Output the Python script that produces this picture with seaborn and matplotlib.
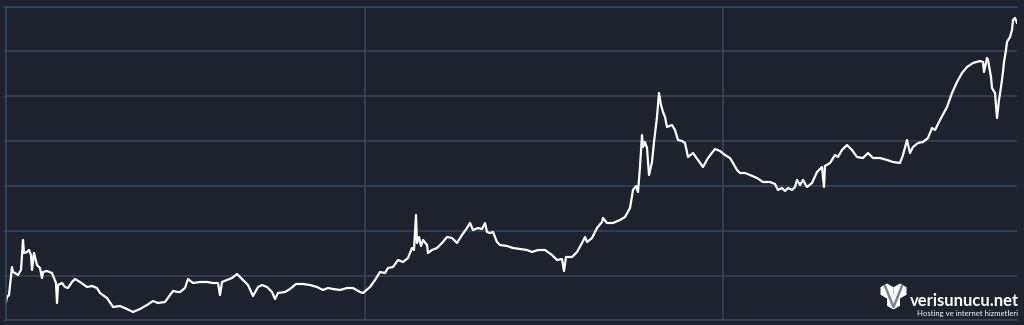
import numpy as np
import pandas as pd
import matplotlib
matplotlib.use("Agg")
import matplotlib.pyplot as plt
from matplotlib.patches import RegularPolygon
from matplotlib.transforms import IdentityTransform
import seaborn as sns

# ---- data (x = day index, y = value) ----
days_a = [6, 7, 9, 12, 13, 15, 18, 21, 23, 24, 27, 29, 31, 32, 34, 37, 40, 42, 43, 47, 52, 54, 56, 57,
          58, 62, 65, 68, 72, 75, 80, 87, 92, 97, 100, 107, 113, 120, 127, 133, 140, 147, 153, 158, 165, 170, 173, 178]
vals_a = [18, 23, 25, 53, 48, 47, 45, 50, 80, 67, 68, 70, 65, 50, 67, 55, 52, 42, 48, 49, 47, 42, 37, 17,
          35, 37, 33, 32, 38, 41, 38, 33, 34, 32, 27, 22, 13, 14, 11, 8, 11, 15, 19, 17, 18, 25, 29, 28]

days_b = [180, 185, 188, 193, 200, 207, 213, 218, 220, 222, 227, 232, 237, 242, 248, 253, 258, 262, 267, 272,
          275, 278, 285, 290, 296, 303, 310, 317, 323, 328, 333, 340, 347, 353, 360, 363, 370]
vals_b = [28, 32, 41, 37, 38, 38, 37, 37, 25, 38, 40, 42, 46, 41, 35, 24, 33, 35, 33, 28,
          21, 27, 28, 31, 36, 36, 35, 33, 30, 32, 31, 30, 32, 32, 28, 27, 33]

days_c = [375, 380, 385, 388, 393, 398, 403, 408, 412, 414, 416, 417, 419, 421, 423, 427, 428, 432, 437, 442,
          447, 452, 457, 462, 467, 470, 473, 478, 482, 485, 487, 490, 493, 497, 500, 507, 513, 520, 527, 532,
          538, 545, 552, 557, 562, 564, 566, 572, 577]
vals_c = [40, 48, 47, 52, 53, 60, 58, 62, 72, 70, 105, 77, 83, 74, 80, 75, 67, 70, 72, 77,
          83, 82, 77, 85, 92, 97, 90, 92, 91, 97, 88, 87, 88, 78, 75, 74, 72, 71, 70, 68,
          70, 70, 65, 60, 61, 49, 63, 63, 68]

days_d = [582, 585, 587, 592, 597, 602, 603, 607, 613, 620, 625, 630, 633, 636, 638, 640, 642, 643, 645, 647,
          649, 652, 654, 657, 659, 661, 663, 665, 667, 672, 675, 678, 682, 685, 688, 693, 698, 703, 708, 715, 720]
vals_d = [77, 83, 78, 82, 92, 98, 102, 97, 97, 100, 103, 112, 130, 134, 128, 153, 185, 173, 178, 172,
          145, 158, 178, 203, 227, 215, 208, 203, 193, 195, 190, 180, 179, 177, 163, 167, 160, 153, 162, 171, 169]

days_e = [725, 730, 733, 737, 740, 745, 750, 757, 763, 770, 775, 778, 782, 785, 788, 792, 795, 797, 800, 803,
          807, 812, 817, 822, 824, 825, 830, 835, 838, 842, 847, 852, 857, 863, 868, 873, 880, 887, 893, 900]
vals_e = [165, 162, 157, 150, 147, 147, 145, 142, 138, 138, 136, 130, 132, 129, 132, 130, 133, 140, 135, 140,
          133, 137, 148, 153, 133, 154, 157, 165, 163, 170, 175, 170, 163, 162, 167, 162, 162, 160, 158, 157]

days_f = [903, 907, 910, 913, 918, 923, 928, 932, 935, 940, 947, 952, 957, 962, 967, 973, 980, 983, 984, 987,
          988, 991, 992, 995, 997, 999, 1001, 1003, 1004, 1006, 1007, 1010, 1012, 1013, 1015, 1017]
vals_f = [165, 180, 167, 173, 177, 178, 182, 192, 190, 200, 213, 227, 238, 247, 253, 257, 259, 258, 248, 262,
          260, 243, 232, 227, 202, 220, 233, 248, 258, 270, 278, 283, 290, 300, 302, 297]

x_ticks = [6, 365, 723]
y_ticks = [0, 44, 89, 134, 179, 224, 269, 313]

logo_name = "verisunucu.net"
logo_tagline = "Hosting ve internet hizmetleri"

days = days_a + days_b + days_c + days_d + days_e + days_f
vals = vals_a + vals_b + vals_c + vals_d + vals_e + vals_f
df = pd.DataFrame({"day": days, "value": vals})

# ---- style ----
BG = "#1d222d"
GRID = "#35475f"
sns.set_theme(style="dark", rc={"axes.facecolor": BG, "figure.facecolor": BG})

fig = plt.figure(figsize=(10.24, 3.25), dpi=100)
ax = fig.add_axes([6 / 1024, 5 / 325, 1011 / 1024, 313 / 325])
ax.set_facecolor(BG)

sns.lineplot(data=df, x="day", y="value", ax=ax, color="white", linewidth=1.6,
             estimator=None, sort=False)

ax.set_xlim(6, 1017)
ax.set_ylim(0, 313)
ax.set_xticks(x_ticks)
ax.set_yticks(y_ticks)
ax.set_xticklabels([])
ax.set_yticklabels([])
ax.set_xlabel("")
ax.set_ylabel("")
ax.grid(True, color=GRID, linewidth=1.1)
ax.set_axisbelow(True)
ax.tick_params(axis="y", length=2, color=GRID, width=1, left=True)
ax.tick_params(axis="x", length=0)
for side in ["left", "bottom", "top"]:
    ax.spines[side].set_visible(True)
    ax.spines[side].set_color(GRID)
    ax.spines[side].set_linewidth(1.1)
ax.spines["right"].set_visible(False)

# ---- logo (drawn in pixel coordinates) ----
W, H = 1024, 325
ident = IdentityTransform()
for cx, cy in [(887, 291), (900, 291), (893.5, 302)]:
    fig.patches.append(RegularPolygon((cx, H - cy), numVertices=6, radius=7.5,
                                      orientation=0, transform=ident,
                                      facecolor="white", edgecolor="none"))
fig.lines.append(plt.Line2D([885, 893.5, 902], [H - 286, H - 307, H - 286],
                            transform=ident, color="#7d838f", linewidth=1.8))

fig.text(1019 / W, 1 - 306 / H, logo_name, color="white", fontsize=12,
         fontweight="bold", ha="right", va="baseline", family=["Lato", "DejaVu Sans"])
fig.text(1018 / W, 1 - 313.5 / H, logo_tagline, color="white", fontsize=5.6,
         ha="right", va="center", family=["Lato", "DejaVu Sans"])

fig.savefig("out.png", dpi=100, facecolor=BG)
